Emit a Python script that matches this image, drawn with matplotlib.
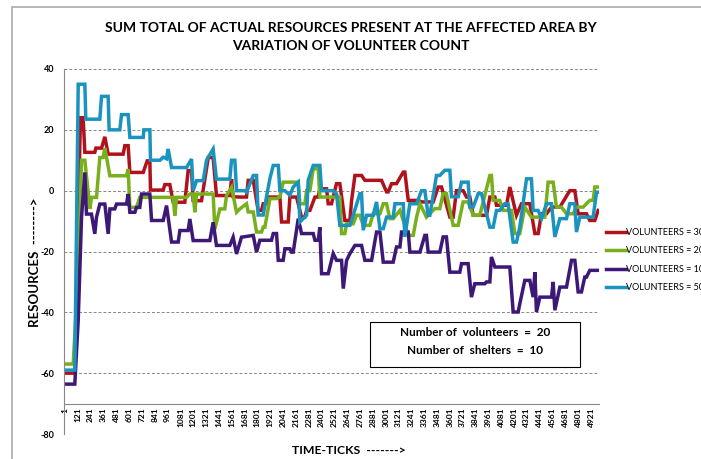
import numpy as np
import matplotlib.pyplot as plt
from matplotlib.patches import Rectangle

plt.rcParams['font.family'] = ['Lato', 'DejaVu Sans']

# ---- data (time-tick, resources) ----
red_x = [1, 93, 146, 171, 187, 280, 290, 343, 374, 405, 545, 561, 592, 608, 733, 770, 795, 801, 920,
         935, 982, 1013, 1122, 1153, 1185, 1200, 1278, 1341, 1387, 1418, 1543, 1559, 1574, 1637,
         1699, 1715, 1762, 1808, 1840, 1855, 1886, 1902, 2011, 2027, 2089, 2105, 2167, 2214, 2245,
         2261, 2292, 2339, 2370, 2385, 2448, 2463, 2494, 2541, 2572, 2619, 2666, 2682, 2713, 2775,
         2806, 2962, 3009, 3024, 3056, 3102, 3165, 3180, 3212, 3305, 3336, 3445, 3492, 3523, 3601,
         3632, 3663, 3725, 3757, 3788, 3819, 3944, 3975, 4022, 4037, 4131, 4162, 4224, 4271, 4349,
         4396, 4427, 4458, 4505, 4552, 4630, 4723, 4770, 4801, 4879, 4910, 4957, 4988]
red_y = [-60, -60, 24, 24, 12.6, 12.6, 14, 14, 17.7, 12, 12, 14.8, 14.8, 6, 6, 9.8, 9.8, 0.2, 0.2,
         2, 2, -3.8, -3.8, 6.6, 6.6, -3.3, -3.3, 10.9, 10.9, -1.6, -1.6, 3.8, -2, -2.1,
         -2.1, 3.4, 3.4, -6.5, -6.5, -4.3, -4.3, -2.1, -2.1, -10.3, -10.3, -2.1, -2.1, -8.7, -8.7,
         -6.5, -6.5, -2.1, -2.1, 0.6, 0.6, -4.3, -4.3, 2.3, 2.3, -9.8, -9.8, -3.2, 5, 5,
         3.4, 3.4, -0.4, -0.4, 2.3, 2.3, 6.1, 6.1, -3.2, -3.2, -3.7, -3.7, 1.2, 1.2, -8.7,
         -8.7, 0, 0, -2.1, -2.1, -8.1, -8.1, -2.1, -2.1, -4.8, -4.8, 1.2, -8.1, -4.3, -4.3,
         -14.1, -14.1, -7.6, -7.6, -5.4, -5.4, 0, 0, -7.6, -7.6, -9.8, -9.8, -6.5]

green_x = [1, 78, 125, 156, 187, 234, 249, 296, 327, 358, 374, 421, 577, 592, 608, 670, 701, 1013,
           1029, 1045, 1138, 1169, 1200, 1216, 1232, 1387, 1403, 1450, 1496, 1512, 1559, 1606, 1637,
           1699, 1715, 1762, 1793, 1840, 1855, 1871, 1918, 1980, 2011, 2042, 2183, 2198, 2245, 2261,
           2292, 2323, 2370, 2385, 2572, 2588, 2619, 2635, 2697, 2728, 2759, 2791, 2853, 2884, 2947,
           2978, 3009, 3040, 3071, 3134, 3212, 3258, 3290, 3321, 3382, 3460, 3507, 3538, 3569, 3632,
           3679, 3725, 3772, 3819, 3881, 3975, 3990, 4006, 4068, 4100, 4177, 4209, 4255, 4302, 4364,
           4489, 4520, 4567, 4598, 4645, 4692, 4754, 4785, 4848, 4910, 4941, 4957, 4988]
green_y = [-57, -57, -27, 10, 10, -6, -2.2, -2.2, 10.9, 10.9, 14, 4.9, 4.9, 7.1, -5.5, -5.5, -2.2, -2.2,
           -8.2, -2.2, -2.2, -1.1, -1.1, -7.1, -1.1, -1.1, -12.6, -6, -6, -1.6, 1.1, -7.1, -6,
           -4.3, -7, -7, -13.6, -13.6, -12, -12, -2.6, -2.6, -2.1, 2.8, 2.8, -4.3, -4.3, 0,
           0, 7.2, 7.2, -2.1, -2.1, -14.1, -14.1, -10.9, -10.9, -8.1, -8.1, -11.4, -11.4, -7.6, -7.6,
           -4.3, -4.3, -9.2, -9.2, -6.5, -14.7, -14.7, -8.7, -4.3, -8.7, -5.9, -5.9, -1, -1, -11.4,
           -11.4, -3.7, -3.7, -8.1, -8.1, 5, 5, -3.2, -3.2, -6.5, -6.5, -14.1, -14.1, -5.4, -8.7,
           -8.7, 2.8, 2.8, -5.4, -5.4, -7.6, -7.6, -5.4, -5.4, -3.2, -3.2, 1.2, 1.2]

purple_x = [1, 93, 125, 156, 187, 202, 249, 280, 296, 327, 374, 405, 421, 467, 483, 577, 592, 608, 655,
            670, 701, 717, 795, 811, 920, 951, 998, 1060, 1076, 1153, 1169, 1200, 1356, 1387, 1418,
            1543, 1574, 1606, 1652, 1762, 1793, 1824, 1933, 1949, 1980, 1996, 2042, 2058, 2105, 2120,
            2136, 2183, 2214, 2323, 2339, 2370, 2385, 2401, 2463, 2510, 2541, 2588, 2604, 2635, 2666,
            2713, 2775, 2806, 2869, 2915, 2947, 2978, 3071, 3102, 3134, 3149, 3212, 3227, 3321, 3367,
            3382, 3398, 3507, 3538, 3569, 3601, 3694, 3710, 3772, 3803, 3834, 3928, 3944, 3975, 3990,
            4022, 4162, 4193, 4240, 4255, 4302, 4349, 4380, 4396, 4411, 4443, 4552, 4567, 4583, 4630,
            4692, 4739, 4770, 4801, 4832, 4863, 4879, 4910, 4988]
purple_y = [-63.6, -63.6, -42.6, -8.7, 6, -7.7, -7.7, -14.2, -8.7, -4.4, -4.4, -14.2, -6, -6, -4.4, -4.4,
            -1.1, -7.1, -7.1, -5.5, -5.5, -1.1, -1.1, -9.8, -9.8, -4.9, -16.9, -16.9, -13.1, -13.1,
            -9.3, -16.4, -16.4, -10.4, -18, -18, -15.3, -20.8, -15.3, -14.7, -20.2, -16.3, -16.3,
            -14.1, -14.1, -22.9, -22.9, -19.1, -19.1, -20.2, -20.2, -9.2, -14.1, -14.1, -16.3, -16.3,
            -12, -27.3, -27.3, -20.7, -22.9, -22.9, -32.2, -22.9, -20.7, -18, -18, -22.9, -22.9,
            -13.6, -13.6, -23.5, -23.5, -18.5, -18.5, -13.6, -13.6, -20.2, -20.2, -14.7, -14.7,
            -20.2, -20.2, -15.2, -15.2, -26.8, -26.8, -24, -24, -35, -30.6, -30.6, -30, -30, -21.8,
            -25.1, -25.1, -39.9, -39.9, -37.2, -29.5, -29.5, -35, -26.8, -39.9, -35, -35, -30, -39.3,
            -31.7, -31.7, -22.9, -22.9, -33.3, -33.3, -28.4, -28.4, -26.2, -26.2]

blue_x = [1, 93, 125, 187, 196, 327, 343, 405, 414, 514, 530, 592, 608, 733, 739, 795, 801, 889, 920,
          951, 966, 998, 1138, 1185, 1200, 1232, 1294, 1325, 1387, 1418, 1543, 1559, 1590, 1606,
          1684, 1699, 1762, 1793, 1808, 1855, 1886, 1918, 1949, 1996, 2011, 2058, 2105, 2136, 2183,
          2198, 2261, 2276, 2323, 2385, 2401, 2510, 2541, 2572, 2666, 2697, 2759, 2775, 2791, 2822,
          2884, 2915, 2947, 2978, 3009, 3071, 3087, 3165, 3180, 3227, 3290, 3336, 3367, 3398, 3414,
          3476, 3507, 3554, 3601, 3616, 3679, 3710, 3772, 3788, 3819, 3866, 3897, 3975, 4006, 4037,
          4068, 4115, 4146, 4193, 4224, 4255, 4318, 4364, 4380, 4427, 4458, 4505, 4552, 4583, 4630,
          4692, 4723, 4770, 4785, 4817, 4941, 4973, 4988]
blue_y = [-59, -59, 35, 35, 23.5, 23.5, 31, 31, 20, 20, 25, 25, 17.5, 17.5, 20, 20, 10, 10, 11,
          10.5, 13.7, 7.6, 7.6, 10.4, 0, 3.3, 3.3, 10, 13.7, 3.8, 3.8, 10, 10, 0,
          0, -0.5, 5, 5, -8, -8, -2, 4, 8.3, 8.3, 0, 0, -1.5, 1.2, 2.8,
          -10.3, -8.1, 3.4, 8.3, 8.3, 0, 0, -1, -11.4, -11.4, -8.1, -1, -1, -13, -8.1,
          -8.1, -3.7, -12.5, -12.5, -8.7, -8.7, -4.3, -4.3, -15.2, -4.3, -4.3, 0, 0, -8.1, -8.1,
          5, 5, 6.7, 6.7, -2, -2, 2.8, 2.8, -5.4, -5.4, -1, -1, -12, -12, -6.5,
          -6.5, -4.3, -4.3, -16.9, -16.9, -12, 3.9, 3.9, -6.5, -6.5, -9.2, -4.3, -4.3, -15.2, -9.2,
          -9.2, -4.3, -4.3, -13.6, -8.7, -8.7, -0.5, -0.5]

series = [(red_x, red_y, '#B0121B', 'VOLUNTEERS = 30'),
          (green_x, green_y, '#79AE1C', 'VOLUNTEERS = 20'),
          (purple_x, purple_y, '#3D1877', 'VOLUNTEERS = 10'),
          (blue_x, blue_y, '#1A93BE', 'VOLUNTEERS = 50')]

tick_vals = list(range(1, 4922, 120))
y_ticks = [-80, -60, -40, -20, 0, 20, 40]

fig = plt.figure(figsize=(7.01, 4.59), dpi=100)
ax = fig.add_axes([64/701, 1 - 434/459, (599 - 64)/701, (434 - 69)/459])

# x axis line crosses at -70, category labels hang under it
ax.spines['bottom'].set_position(('data', -70))
ax.spines['bottom'].set_color('#888888')
ax.spines['left'].set_color('#888888')
ax.spines['top'].set_visible(False)
ax.spines['right'].set_visible(False)

for xs, ys, col, lab in series:
    ax.plot(xs, ys, color=col, lw=2.5, label=lab, solid_joinstyle='miter')

ax.set_xlim(-8, 4996)
ax.set_ylim(-80, 40)
ax.set_yticks(y_ticks)
ax.set_yticklabels([str(v) for v in y_ticks])
ax.set_xticks(tick_vals)
ax.set_xticklabels([str(v) for v in tick_vals])
ax.tick_params(axis='x', length=0, pad=3, labelrotation=90, labelsize=6)
ax.tick_params(axis='y', length=0, pad=7, labelsize=6.5)
for lbl in ax.get_xticklabels() + ax.get_yticklabels():
    lbl.set_fontweight('bold')

ax.yaxis.grid(True, linestyle=(0, (3, 2)), color='#888888', lw=0.7)
ax.set_axisbelow(True)

ax.set_ylabel('RESOURCES  -------->', fontsize=9.5, fontweight='bold')
ax.yaxis.set_label_coords((41 - 64)/535, (434 - 262)/365)
fig.text(349/701, 1 - 451/459, 'TIME-TICKS  ------->', fontsize=8.8, fontweight='bold',
         ha='center', va='center')

fig.suptitle('SUM TOTAL OF ACTUAL RESOURCES PRESENT AT THE AFFECTED AREA BY\nVARIATION OF VOLUNTEER COUNT',
             x=351/701, y=1 - 22/459, fontsize=10, fontweight='bold', linespacing=1.55, va='top')

fig.legend(loc='upper left', bbox_to_anchor=(606/701, 1 - 228/459), frameon=False,
           fontsize=6.5, handlelength=2.2, handletextpad=0.05, labelspacing=1.05,
           borderaxespad=0, borderpad=0)

# info box
fig.patches.append(Rectangle((370/701, 1 - 367/459), 210/701, 45/459, transform=fig.transFigure,
                             fill=False, ec='black', lw=0.8))
fig.text(475/701, 1 - 332/459, 'Number of  volunteers  =  20', ha='center', va='center',
         fontsize=8.5, fontweight='bold')
fig.text(475/701, 1 - 351/459, 'Number of  shelters  =  10', ha='center', va='center',
         fontsize=8.5, fontweight='bold')

# outer chart frame
fig.patches.append(Rectangle((12/701, -0.1), 1.0, 1 - 7/459 + 0.1, transform=fig.transFigure,
                             fill=False, ec='#aaaaaa', lw=1.2))

fig.savefig('out.png', dpi=100)
